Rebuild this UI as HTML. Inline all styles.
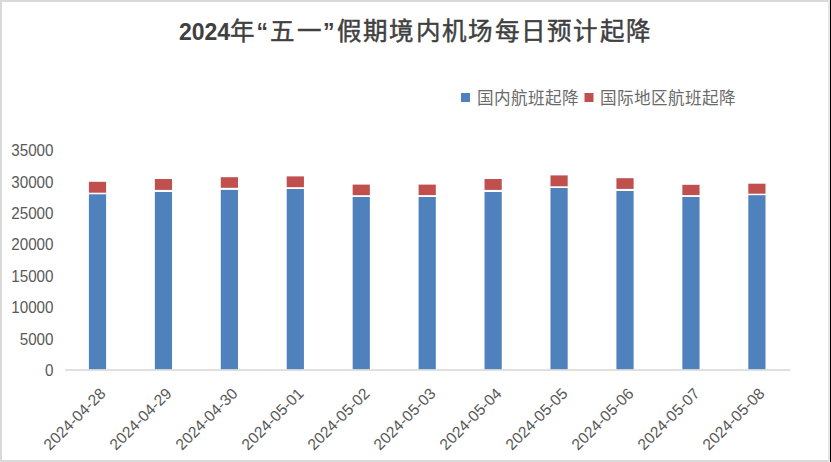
<!DOCTYPE html>
<html lang="zh-CN"><head><meta charset="utf-8">
<style>
html,body{margin:0;padding:0;}
body{width:831px;height:462px;overflow:hidden;position:relative;background:#fff;font-family:"Liberation Sans",sans-serif;color:#595959;}
svg{position:absolute;left:0;top:0;}
.yl{position:absolute;left:0;width:53.5px;text-align:right;font-size:16px;line-height:18px;height:18px;transform:scaleX(0.95);transform-origin:100% 50%;}
.xl{position:absolute;width:200px;text-align:right;font-size:15.6px;line-height:18px;height:18px;transform-origin:100% 50%;transform:rotate(-45deg);}
.title{position:absolute;left:179px;top:16px;font-size:23px;line-height:32px;font-weight:bold;color:#404040;white-space:nowrap;}
.title .cj{font-family:"Liberation Serif",serif;font-weight:normal;-webkit-text-stroke:0.45px #404040;font-size:24.5px;letter-spacing:2.3px;}
.title .q{letter-spacing:2.3px;}
.leg{color:#6a6a6a;position:absolute;top:89px;font-size:16.6px;line-height:20px;font-family:"Liberation Serif",serif;white-space:nowrap;}
</style></head><body>
<svg width="831" height="462" viewBox="0 0 831 462">
<rect x="0" y="0" width="831" height="462" fill="#fff"/>
<rect x="88.90" y="194.30" width="17.2" height="175.30" fill="#4F81BD"/><rect x="88.90" y="181.80" width="17.2" height="10.90" fill="#C0504D"/><rect x="154.84" y="192.00" width="17.2" height="177.60" fill="#4F81BD"/><rect x="154.84" y="179.00" width="17.2" height="10.90" fill="#C0504D"/><rect x="220.78" y="189.90" width="17.2" height="179.70" fill="#4F81BD"/><rect x="220.78" y="177.20" width="17.2" height="10.60" fill="#C0504D"/><rect x="286.72" y="189.00" width="17.2" height="180.60" fill="#4F81BD"/><rect x="286.72" y="176.40" width="17.2" height="10.80" fill="#C0504D"/><rect x="352.66" y="197.00" width="17.2" height="172.60" fill="#4F81BD"/><rect x="352.66" y="184.60" width="17.2" height="10.60" fill="#C0504D"/><rect x="418.60" y="197.00" width="17.2" height="172.60" fill="#4F81BD"/><rect x="418.60" y="184.60" width="17.2" height="10.50" fill="#C0504D"/><rect x="484.54" y="192.00" width="17.2" height="177.60" fill="#4F81BD"/><rect x="484.54" y="179.00" width="17.2" height="10.90" fill="#C0504D"/><rect x="550.48" y="188.00" width="17.2" height="181.60" fill="#4F81BD"/><rect x="550.48" y="175.40" width="17.2" height="10.90" fill="#C0504D"/><rect x="616.42" y="191.00" width="17.2" height="178.60" fill="#4F81BD"/><rect x="616.42" y="178.20" width="17.2" height="10.70" fill="#C0504D"/><rect x="682.36" y="197.00" width="17.2" height="172.60" fill="#4F81BD"/><rect x="682.36" y="184.80" width="17.2" height="10.30" fill="#C0504D"/><rect x="748.30" y="195.20" width="17.2" height="174.40" fill="#4F81BD"/><rect x="748.30" y="183.70" width="17.2" height="10.00" fill="#C0504D"/>
<rect x="65" y="369.2" width="725.5" height="1.6" fill="#D9D9D9"/>
<rect x="461" y="93" width="9" height="9" fill="#4F81BD"/>
<rect x="584.5" y="93" width="9" height="9" fill="#C0504D"/>
<rect x="0" y="0" width="830" height="2" fill="#D9D9D9"/>
<rect x="0" y="0" width="2" height="462" fill="#D9D9D9"/>
<rect x="0" y="460" width="830" height="2" fill="#D9D9D9"/>
<rect x="828" y="0" width="2" height="462" fill="#E6E6E6"/>
<rect x="830" y="0" width="1" height="462" fill="#000"/>
</svg>
<div class="title">2024<span class="cj">年</span><span class="q">“</span><span class="cj">五一</span><span class="q">”</span><span class="cj">假期境内机场每日预计起降</span></div>
<div class="leg" style="left:477px">国内航班起降</div>
<div class="leg" style="left:600.3px">国际地区航班起降</div>
<div class="yl" style="top:362.0px">0</div><div class="yl" style="top:330.6px">5000</div><div class="yl" style="top:299.2px">10000</div><div class="yl" style="top:267.8px">15000</div><div class="yl" style="top:236.4px">20000</div><div class="yl" style="top:205.0px">25000</div><div class="yl" style="top:173.6px">30000</div><div class="yl" style="top:142.2px">35000</div>
<div class="xl" style="left:-97.0px;top:381.5px">2024-04-28</div><div class="xl" style="left:-31.1px;top:381.5px">2024-04-29</div><div class="xl" style="left:34.9px;top:381.5px">2024-04-30</div><div class="xl" style="left:100.8px;top:381.5px">2024-05-01</div><div class="xl" style="left:166.8px;top:381.5px">2024-05-02</div><div class="xl" style="left:232.7px;top:381.5px">2024-05-03</div><div class="xl" style="left:298.6px;top:381.5px">2024-05-04</div><div class="xl" style="left:364.6px;top:381.5px">2024-05-05</div><div class="xl" style="left:430.5px;top:381.5px">2024-05-06</div><div class="xl" style="left:496.5px;top:381.5px">2024-05-07</div><div class="xl" style="left:562.4px;top:381.5px">2024-05-08</div>
</body></html>
